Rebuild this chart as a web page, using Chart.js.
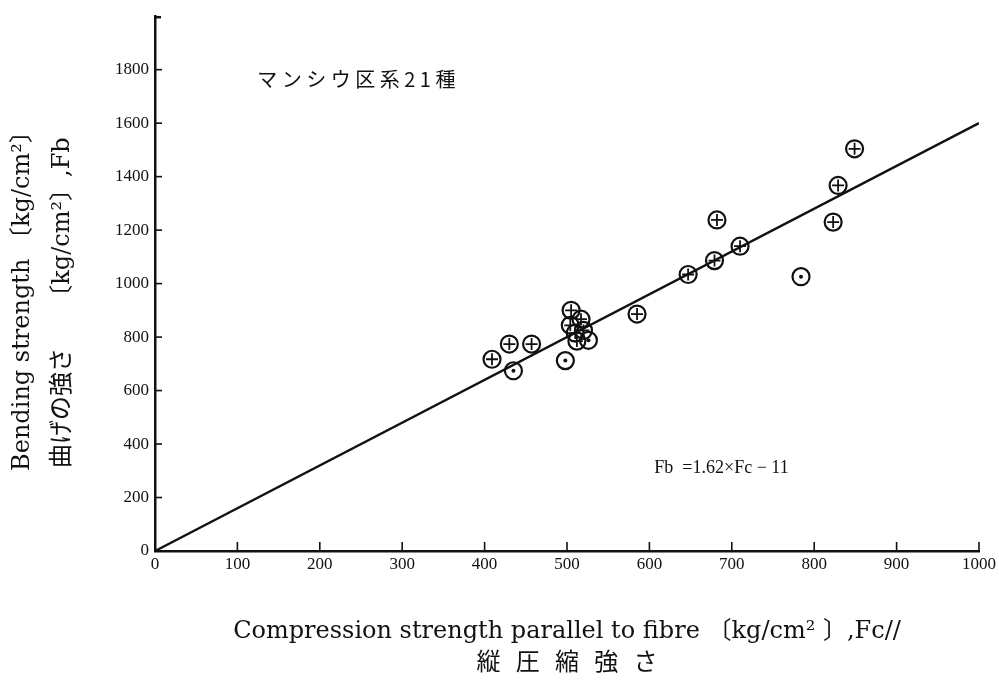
<!DOCTYPE html>
<html><head><meta charset="utf-8">
<script src="https://cdn.jsdelivr.net/npm/chart.js@4/dist/chart.umd.min.js"></script>
<style>html,body{margin:0;padding:0;background:#fff;} #wrap{width:999px;height:684px;}</style>
</head><body><div id="wrap"><canvas id="c" width="999" height="684"></canvas></div>
<script>
// ⊕ species (circle with cross)
const crossX = [409, 430, 457, 505, 517, 504, 510, 512, 520, 585, 647, 679, 710, 682, 823, 829, 849];
const crossY = [717, 774, 774, 900, 867, 844, 815, 785, 825, 886, 1034, 1086, 1140, 1238, 1230, 1367, 1504];
// ⊙ species (circle with dot)
const dotX = [435, 498, 526, 784];
const dotY = [674, 712, 788, 1026];
// regression line Fb = 1.62 x Fc - 11 (as drawn)
const lineX = [0, 1000];
const lineY = [0, 1600];
const xTicks = [0, 100, 200, 300, 400, 500, 600, 700, 800, 900, 1000];
const yTicks = [0, 200, 400, 600, 800, 1000, 1200, 1400, 1600, 1800];
const chartTitle = 'マンシウ区系21種';
const equationText = 'Fb  =1.62×Fc − 11';
const xTitle = ['Compression strength parallel to fibre 〔kg/cm² 〕,Fc//', '縦  圧  縮  強  さ'];
const yTitle = ['Bending strength 〔kg/cm²〕   ', '曲げの強さ　  〔kg/cm²〕,Fb     '];

const pts = (xs, ys) => xs.map((v, i) => ({x: v, y: ys[i]}));
const INK = '#111';
const serif = "'DejaVu Serif','Noto Sans CJK JP',serif";
const tickFont = {family: "'Liberation Serif'", size: 17};

const decor = {
  id: 'decor',
  afterDraw(chart) {
    const {ctx, scales: {x, y}} = chart;
    ctx.save();
    ctx.strokeStyle = INK;
    ctx.lineWidth = 1.6;
    x.ticks.forEach(t => {
      const px = x.getPixelForValue(t.value);
      ctx.beginPath(); ctx.moveTo(px, y.bottom); ctx.lineTo(px, y.bottom - 9); ctx.stroke();
    });
    y.ticks.forEach(t => {
      const py = y.getPixelForValue(t.value);
      ctx.beginPath(); ctx.moveTo(x.left, py); ctx.lineTo(x.left + 7, py); ctx.stroke();
    });
    ctx.lineWidth = 2.5;
    ctx.beginPath(); ctx.moveTo(x.left, y.top + 1); ctx.lineTo(x.left + 6, y.top + 1); ctx.stroke();
    ctx.fillStyle = INK;
    ctx.textBaseline = 'middle';
    ctx.textAlign = 'left';
    // chart title
    ctx.font = "20px 'Noto Sans CJK JP'";
    if ('letterSpacing' in ctx) ctx.letterSpacing = '4.5px';
    ctx.fillText(chartTitle, x.getPixelForValue(124), y.getPixelForValue(1765));
    if ('letterSpacing' in ctx) ctx.letterSpacing = '0px';
    // equation
    ctx.font = "18px 'Liberation Serif'";
    ctx.fillText(equationText, x.getPixelForValue(606), y.getPixelForValue(311));
    ctx.restore();
  }
};

new Chart(document.getElementById('c'), {
  type: 'scatter',
  data: {
    datasets: [
      {label: 'cross', data: pts(crossX, crossY), pointStyle: 'cross', pointRadius: 6, pointBorderWidth: 1.8, borderColor: INK, backgroundColor: INK},
      {label: 'crossRing', data: pts(crossX, crossY), pointStyle: 'circle', pointRadius: 8.5, pointBorderWidth: 2.2, borderColor: INK, backgroundColor: 'rgba(0,0,0,0)'},
      {label: 'dot', data: pts(dotX, dotY), pointStyle: 'circle', pointRadius: 2, pointBorderWidth: 0, borderColor: INK, backgroundColor: INK},
      {label: 'dotRing', data: pts(dotX, dotY), pointStyle: 'circle', pointRadius: 8.5, pointBorderWidth: 2.2, borderColor: INK, backgroundColor: 'rgba(0,0,0,0)'},
      {label: 'fit', data: pts(lineX, lineY), showLine: true, pointRadius: 0, borderColor: INK, borderWidth: 2.4, backgroundColor: INK}
    ]
  },
  options: {
    responsive: false,
    animation: false,
    devicePixelRatio: 1,
    layout: {padding: {left: 0, right: 16, top: 11, bottom: 0}},
    plugins: {legend: {display: false}, tooltip: {enabled: false}},
    scales: {
      x: {
        type: 'linear', min: 0, max: 1000,
        afterBuildTicks: s => { s.ticks = xTicks.map(v => ({value: v})); },
        afterFit: s => { s.height = 133; },
        grid: {display: false, drawTicks: false},
        border: {display: true, color: INK, width: 2.5},
        ticks: {color: INK, padding: 3, maxRotation: 0, font: tickFont, callback: v => String(v)},
        title: {display: true, text: xTitle, color: INK, padding: {top: 0, bottom: 5}, font: {family: serif, size: 24, lineHeight: 1.3}}
      },
      y: {
        type: 'linear', min: 0, max: 2000,
        afterBuildTicks: s => { s.ticks = yTicks.map(v => ({value: v})); },
        afterFit: s => { s.width = 155; },
        grid: {display: false, drawTicks: false},
        border: {display: true, color: INK, width: 2.5},
        ticks: {color: INK, padding: 6, font: tickFont, callback: v => String(v)},
        title: {display: true, text: yTitle, color: INK, padding: {top: 3, bottom: 0}, font: {family: serif, size: 24, lineHeight: 1.67}}
      }
    }
  },
  plugins: [decor]
});
</script>
</body></html>
